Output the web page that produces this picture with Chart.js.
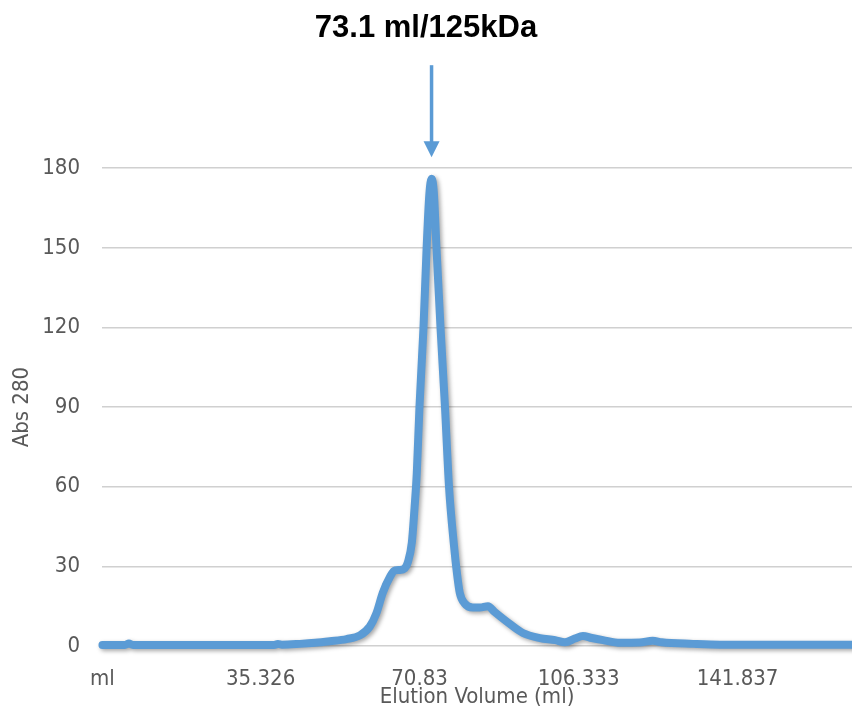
<!DOCTYPE html>
<html>
<head>
<meta charset="utf-8">
<script src="https://cdn.jsdelivr.net/npm/chart.js@4"></script>
<style>
  html, body { margin: 0; padding: 0; background: #fff; }
  #wrap { width: 852px; height: 709px; }
</style>
</head>
<body>
<div id="wrap"><canvas id="elutionChart" width="852" height="709"></canvas></div>
<script>
// elution profile (ml, Abs 280)
const elutionMl = [0, 5.0, 5.9, 6.8, 21.8, 38.3, 39.2, 40.1, 44.1, 47.5, 50.8, 54.5, 57.5, 59.7, 61.2, 62.6, 64.2, 65.3, 66.4, 67.5, 68.2, 69.1, 69.7, 70.2, 70.8, 71.7, 72.4, 73.0, 73.5, 74.0, 74.6, 75.5, 76.5, 77.4, 78.5, 79.2, 79.8, 80.9, 82.7, 84.3, 86.1, 87.6, 90.3, 93.9, 97.7, 101.1, 103.3, 105.5, 107.3, 109.3, 111.8, 115.6, 120.0, 122.9, 124.9, 131.9, 137.9, 167.4];
const abs280 = [0.4, 0.4, 0.9, 0.4, 0.4, 0.4, 0.8, 0.5, 0.8, 1.2, 1.8, 2.6, 4.0, 7.3, 12.4, 20, 26, 28.5, 28.6, 29.2, 31.5, 39, 52, 65, 90, 120, 150, 170, 176, 171, 150, 120, 90, 60, 38, 27, 20, 16, 14.5, 14.5, 15, 12.8, 9.2, 4.9, 3.0, 2.2, 1.4, 2.8, 3.8, 3.0, 2.2, 1.2, 1.3, 2.0, 1.4, 0.8, 0.5, 0.5];

const xTickValues = [0, 35.326, 70.83, 106.333, 141.837];
const xTickLabels = ['ml', '35.326', '70.83', '106.333', '141.837'];
const yTicks = [0, 30, 60, 90, 120, 150, 180];

const peakLabel = '73.1 ml/125kDa';
const lineBlue = '#5B9BD5';
const tickFont = "'Liberation Sans Narrow', 'DejaVu Sans Condensed', sans-serif";

const points = elutionMl.map((v, i) => ({ x: v, y: abs280[i] }));

// soft shadow under the trace, like the Excel line
const shadowPlugin = {
  id: 'lineShadow',
  beforeDatasetsDraw(chart) {
    const ctx = chart.ctx;
    ctx.save();
    ctx.shadowColor = 'rgba(0,0,0,0.35)';
    ctx.shadowBlur = 4;
    ctx.shadowOffsetX = 2;
    ctx.shadowOffsetY = 2;
  },
  afterDatasetsDraw(chart) {
    chart.ctx.restore();
  }
};

// arrow pointing at the peak
const arrowPlugin = {
  id: 'peakArrow',
  afterDraw(chart) {
    const ctx = chart.ctx;
    const top = chart.chartArea.top;
    let iMax = 0;
    abs280.forEach((v, i) => { if (v > abs280[iMax]) iMax = i; });
    const x = chart.scales.x.getPixelForValue(elutionMl[iMax]);
    ctx.save();
    ctx.strokeStyle = lineBlue;
    ctx.fillStyle = lineBlue;
    ctx.lineWidth = 3.5;
    ctx.beginPath();
    ctx.moveTo(x, top - 103);
    ctx.lineTo(x, top - 22);
    ctx.stroke();
    ctx.beginPath();
    ctx.moveTo(x - 8, top - 27);
    ctx.lineTo(x + 8, top - 27);
    ctx.lineTo(x, top - 11);
    ctx.closePath();
    ctx.fill();
    ctx.restore();
  }
};

new Chart(document.getElementById('elutionChart').getContext('2d'), {
  type: 'line',
  data: {
    datasets: [{
      label: 'Abs 280',
      data: points,
      borderColor: lineBlue,
      borderWidth: 8,
      pointRadius: 0,
      cubicInterpolationMode: 'monotone',
      borderCapStyle: 'round',
      borderJoinStyle: 'round',
      fill: false,
      clip: 12
    }]
  },
  plugins: [shadowPlugin, arrowPlugin],
  options: {
    responsive: false,
    animation: false,
    layout: { padding: { left: 0, right: 0, top: 0, bottom: 0 } },
    plugins: {
      legend: { display: false },
      tooltip: { enabled: false },
      title: {
        display: true,
        text: peakLabel,
        color: '#000',
        font: { family: "'Liberation Sans', Arial, sans-serif", size: 31, weight: 'bold' },
        padding: { top: 10, bottom: 121 }
      }
    },
    scales: {
      x: {
        type: 'linear',
        min: -0.1,
        max: 167.4,
        afterFit(scale) { scale.height = 63; },
        afterBuildTicks(scale) {
          scale.ticks = xTickValues.map(v => ({ value: v }));
        },
        ticks: {
          autoSkip: false,
          maxRotation: 0,
          padding: 20,
          color: '#595959',
          font: { family: tickFont, size: 22 },
          callback(value) {
            const i = xTickValues.indexOf(value);
            return i >= 0 ? xTickLabels[i] : '';
          }
        },
        grid: { display: false, drawTicks: false },
        border: { display: false },
        title: {
          display: true,
          text: 'Elution Volume (ml)',
          color: '#595959',
          font: { family: tickFont, size: 22 },
          padding: { top: 0, bottom: -1 }
        }
      },
      y: {
        min: 0,
        max: 180,
        afterFit(scale) { scale.width = 102; },
        afterBuildTicks(scale) {
          scale.ticks = yTicks.map(v => ({ value: v }));
        },
        ticks: {
          padding: 22,
          color: '#595959',
          font: { family: tickFont, size: 22 }
        },
        grid: { color: '#d0d0d0', lineWidth: 1.5, drawTicks: false },
        border: { display: false },
        title: {
          display: true,
          text: 'Abs 280',
          color: '#595959',
          font: { family: tickFont, size: 22 },
          padding: { top: 9, bottom: 0 }
        }
      }
    }
  }
});
</script>
</body>
</html>
